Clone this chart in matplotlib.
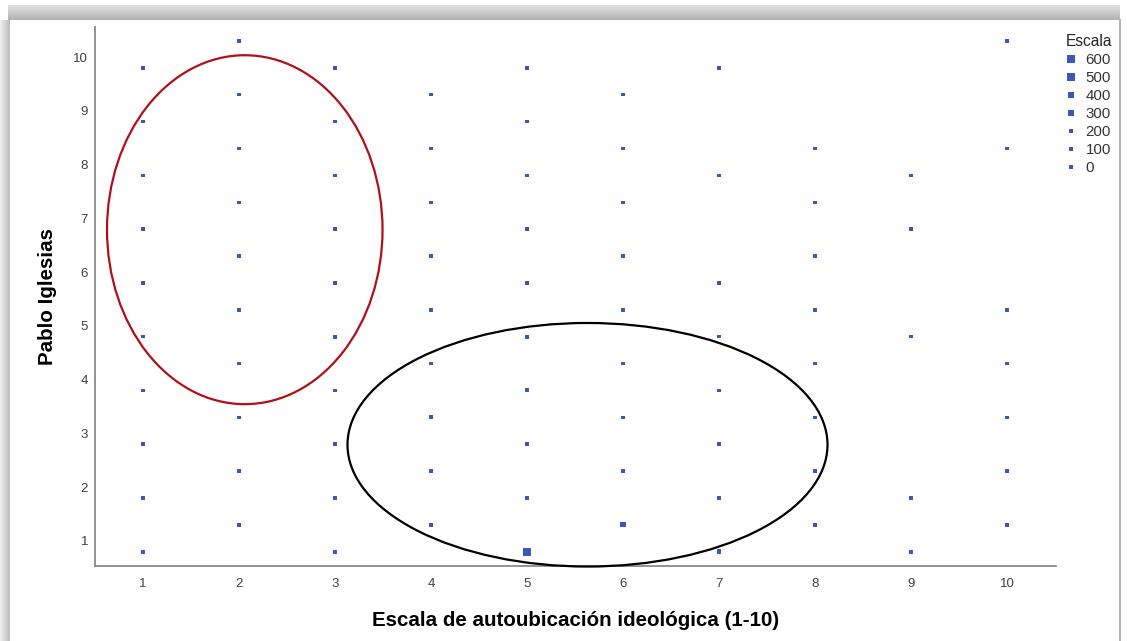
import numpy as np
import matplotlib
matplotlib.use("Agg")
import matplotlib.pyplot as plt
from matplotlib.patches import Ellipse
from matplotlib.lines import Line2D

plt.rcParams['font.family'] = ['Liberation Sans', 'DejaVu Sans']

# ideology scale (x) vs rating of Pablo Iglesias (y), marker size = count
# y as drawn by SPSS: odd x columns sit 0.2 below the value, even x columns 0.3 above
x_vals = [1] * 10 + [2] * 10 + [3] * 10 + [4] * 9 + [5] * 10 + [6] * 9 + [7] * 8 + [8] * 8 + [9] * 5 + [10] * 7
y_vals = [0.8, 1.8, 2.8, 3.8, 4.8, 5.8, 6.8, 7.8, 8.8, 9.8,
          1.3, 2.3, 3.3, 4.3, 5.3, 6.3, 7.3, 8.3, 9.3, 10.3,
          0.8, 1.8, 2.8, 3.8, 4.8, 5.8, 6.8, 7.8, 8.8, 9.8,
          1.3, 2.3, 3.3, 4.3, 5.3, 6.3, 7.3, 8.3, 9.3,
          0.8, 1.8, 2.8, 3.8, 4.8, 5.8, 6.8, 7.8, 8.8, 9.8,
          1.3, 2.3, 3.3, 4.3, 5.3, 6.3, 7.3, 8.3, 9.3,
          0.8, 1.8, 2.8, 3.8, 4.8, 5.8, 7.8, 9.8,
          1.3, 2.3, 3.3, 4.3, 5.3, 6.3, 7.3, 8.3,
          0.8, 1.8, 4.8, 6.8, 7.8,
          1.3, 2.3, 3.3, 4.3, 5.3, 8.3, 10.3]
counts = [50, 40, 40, 40, 45, 40, 40, 40, 30, 50,
          40, 40, 40, 45, 40, 40, 40, 40, 30, 25,
          50, 60, 70, 60, 90, 100, 90, 50, 40, 35,
          80, 60, 70, 70, 60, 60, 40, 40, 30,
          650, 110, 120, 110, 80, 60, 50, 40, 35, 30,
          260, 70, 60, 60, 50, 40, 35, 35, 25,
          180, 60, 50, 50, 40, 30, 30, 25,
          140, 60, 45, 40, 35, 30, 30, 25,
          50, 40, 30, 25, 20,
          130, 50, 40, 35, 35, 30, 30]
legend_counts = [600, 500, 400, 300, 200, 100, 0]

DOT = '#3a58b8'
PX = 100 / 72.0


def side_pts(c):
    # square side in points for a given count
    return (3.2 + 0.0078 * c) / PX


fig = plt.figure(figsize=(11.27, 6.41), dpi=100)
fig.patch.set_facecolor('white')

# screenshot frame: grey shadow on top / left, thin line on the right
top = np.linspace(0.88, 0.70, 15)[:, None] * np.ones((15, 1112))
fig.figimage(np.dstack([top] * 3), xo=8, yo=641 - 20, origin='upper')
left = np.linspace(0.93, 0.75, 10)[None, :] * np.ones((621, 10))
fig.figimage(np.dstack([left] * 3), xo=0, yo=0, origin='upper')
fig.add_artist(Line2D([1120 / 1127, 1120 / 1127], [0, 621 / 641], transform=fig.transFigure,
                      color='#b5b5b5', lw=1.5))

ax = fig.add_axes([95 / 1127, (641 - 566) / 641, (1056 - 95) / 1127, (566 - 27) / 641])
ax.scatter(x_vals, y_vals, s=[side_pts(c) ** 2 for c in counts], marker='s', color=DOT,
           linewidths=0, zorder=3)

ax.set_xlim(0.5, 10.51)
ax.set_ylim(0.535, 10.56)
ax.set_xticks(range(1, 11))
ax.set_yticks(range(1, 11))
ax.tick_params(length=0, labelsize=9.5, labelcolor='#404040')
ax.tick_params(axis='x', pad=8.5)
ax.tick_params(axis='y', pad=5)
for s in ['top', 'right']:
    ax.spines[s].set_visible(False)
for s in ['left', 'bottom']:
    ax.spines[s].set_color('#8a8a8a')
    ax.spines[s].set_linewidth(1.3)

ax.set_xlabel('Escala de autoubicación ideológica (1-10)', fontsize=14.8, fontweight='bold',
              labelpad=15)
ax.set_ylabel('Pablo Iglesias', fontsize=14.8, fontweight='bold', labelpad=12)

# highlighted groups
ax.add_patch(Ellipse((2.06, 6.79), 2.87, 6.49, fill=False, edgecolor='#b01018', lw=1.6,
                     clip_on=False, zorder=4))
ax.add_patch(Ellipse((5.63, 2.79), 5.0, 4.53, fill=False, edgecolor='black', lw=1.6,
                     clip_on=False, zorder=4))

handles = [Line2D([], [], ls='none', marker='s', markersize=side_pts(c), color=DOT,
                  markeredgewidth=0) for c in legend_counts]
leg = fig.legend(handles, [str(c) for c in legend_counts], title='Escala',
                 loc='upper left', bbox_to_anchor=(1063 / 1127, 1 - 31.5 / 641),
                 frameon=False, fontsize=10.8, title_fontsize=11.2, handlelength=0.7,
                 handletextpad=0.6, labelspacing=0.26, borderpad=0.2, borderaxespad=0)
leg._legend_box.align = 'left'
for t in leg.get_texts():
    t.set_color('#333333')
leg.get_title().set_color('#222222')

fig.savefig('out.png', dpi=100, facecolor=fig.get_facecolor())
